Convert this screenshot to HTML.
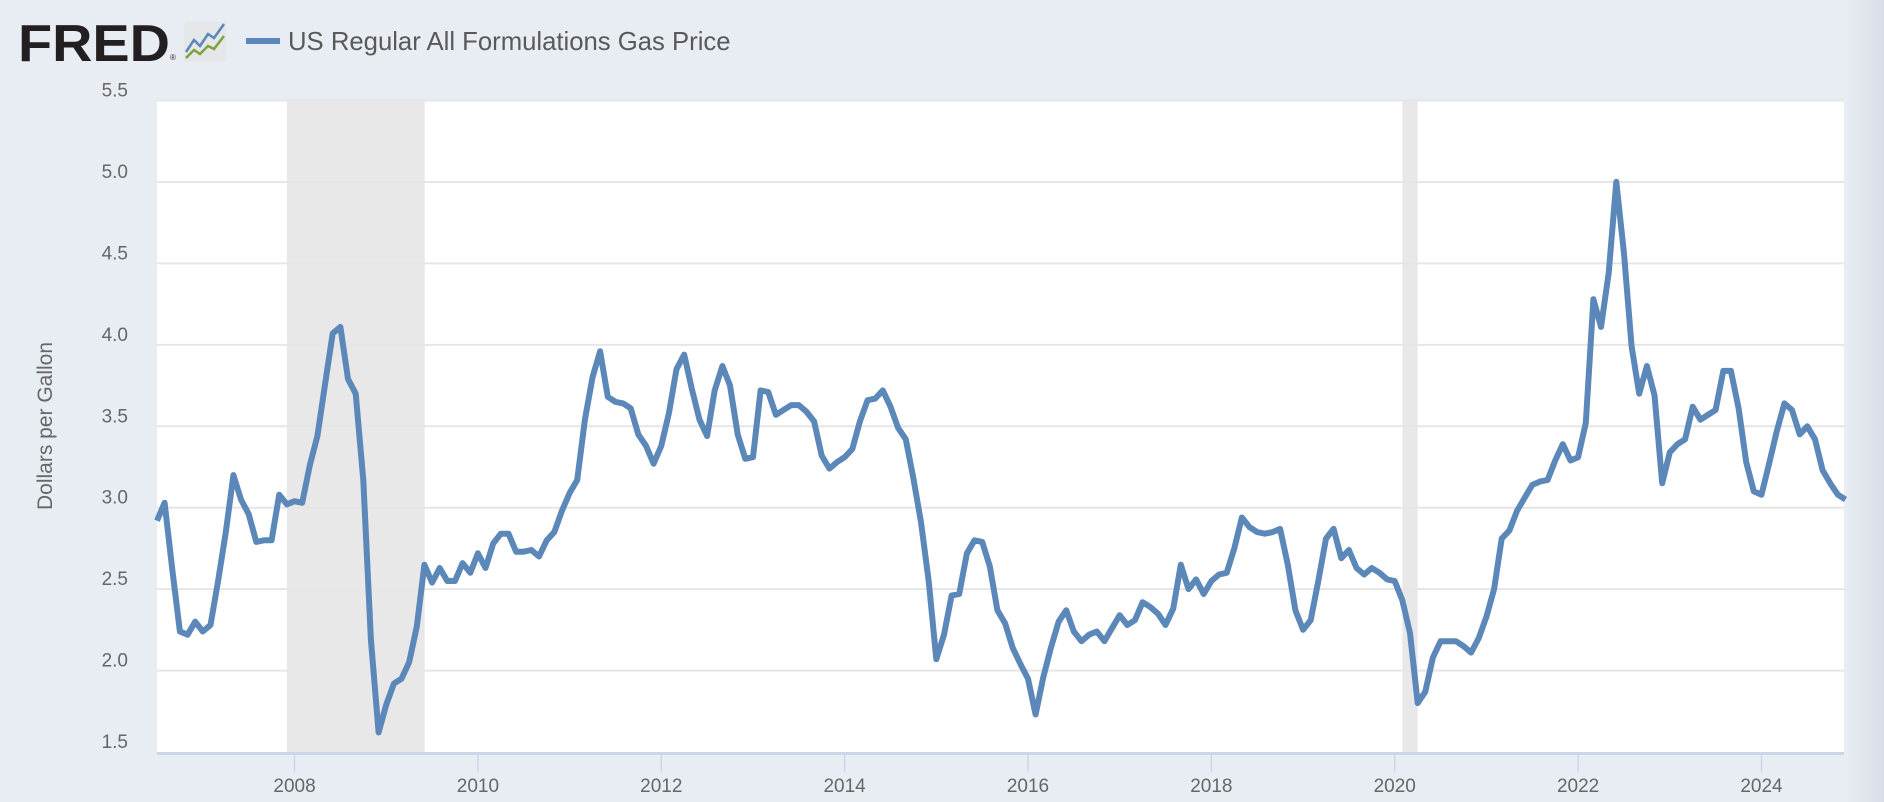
<!DOCTYPE html>
<html><head><meta charset="utf-8">
<style>
html,body{margin:0;padding:0;}
body{width:1884px;height:802px;background:#e8edf4;font-family:"Liberation Sans",sans-serif;overflow:hidden;position:relative;}
#chart{position:absolute;left:0;top:0;}
</style></head>
<body>
<svg id="chart" width="1884" height="802" xmlns="http://www.w3.org/2000/svg">
  <defs>
    <linearGradient id="rg" x1="0" x2="1" y1="0" y2="0">
      <stop offset="0" stop-color="#e8edf4"/><stop offset="1" stop-color="#d9dee6"/>
    </linearGradient>
  </defs>
  <rect x="1846" y="0" width="38" height="802" fill="url(#rg)"/>
  <g>
    <text x="18" y="61" font-size="52" font-weight="bold" fill="#231f20" textLength="152" lengthAdjust="spacingAndGlyphs">FRED</text>
    <text x="170" y="60" font-size="8" fill="#231f20">®</text>
    <rect x="184" y="22" width="42" height="40" rx="3" fill="#e4e6e8"/>
    <polyline points="186,52 194,40 200,46 208,34 214,38 224,24" fill="none" stroke="#5b88b9" stroke-width="2.5"/>
    <polyline points="186,58 194,50 200,54 208,46 214,49 224,36" fill="none" stroke="#7aa33c" stroke-width="2.5"/>
  </g>
  <g>
    <line x1="246" y1="41" x2="280" y2="41" stroke="#5b88b9" stroke-width="6"/>
    <text x="288" y="50" font-size="25.7" fill="#595959">US Regular All Formulations Gas Price</text>
  </g>
  <rect x="157" y="100" width="1687" height="652" fill="#ffffff"/>
  <g id="shades"></g>
  <g id="grid"></g>
  <g id="xaxis"></g>
  <g id="yaxis"></g>
  <g id="series"></g>
  <text x="0" y="0" transform="translate(52,426) rotate(-90)" text-anchor="middle" font-size="21" fill="#666">Dollars per Gallon</text>
</svg>
<script>
const startYear = 2006.5;
const yTicks = [1.5, 2.0, 2.5, 3.0, 3.5, 4.0, 4.5, 5.0, 5.5];
const xTicks = [2008, 2010, 2012, 2014, 2016, 2018, 2020, 2022, 2024];
const recessionStarts = [2007.917, 2020.083];
const recessionEnds = [2009.42, 2020.25];
const prices = [
 2.92,3.03,2.62,2.24,2.22,2.30,
 2.24,2.28,2.55,2.85,3.20,3.05,2.96,2.79,2.80,2.80,3.08,3.02,
 3.04,3.03,3.26,3.44,3.76,4.07,4.11,3.79,3.70,3.17,2.19,1.62,
 1.79,1.92,1.95,2.05,2.27,2.65,2.54,2.63,2.55,2.55,2.66,2.60,
 2.72,2.63,2.78,2.84,2.84,2.73,2.73,2.74,2.70,2.80,2.85,2.98,
 3.09,3.17,3.54,3.80,3.96,3.68,3.65,3.64,3.61,3.45,3.38,3.27,
 3.38,3.58,3.85,3.94,3.73,3.54,3.44,3.72,3.87,3.75,3.45,3.30,
 3.31,3.72,3.71,3.57,3.60,3.63,3.63,3.59,3.53,3.32,3.24,3.28,
 3.31,3.36,3.53,3.66,3.67,3.72,3.62,3.49,3.42,3.18,2.91,2.55,
 2.07,2.22,2.46,2.47,2.72,2.80,2.79,2.64,2.37,2.29,2.14,2.04,
 1.95,1.73,1.96,2.14,2.30,2.37,2.24,2.18,2.22,2.24,2.18,2.26,
 2.34,2.28,2.31,2.42,2.39,2.35,2.28,2.38,2.65,2.50,2.56,2.47,
 2.55,2.59,2.60,2.75,2.94,2.88,2.85,2.84,2.85,2.87,2.65,2.37,
 2.25,2.31,2.55,2.81,2.87,2.69,2.74,2.63,2.59,2.63,2.60,2.56,
 2.55,2.43,2.23,1.80,1.87,2.08,2.18,2.18,2.18,2.15,2.11,2.20,
 2.33,2.50,2.81,2.86,2.98,3.06,3.14,3.16,3.17,3.29,3.39,3.29,
 3.31,3.52,4.28,4.11,4.44,5.00,4.56,3.99,3.70,3.87,3.69,3.15,
 3.34,3.39,3.42,3.62,3.54,3.57,3.60,3.84,3.84,3.61,3.28,3.10,
 3.08,3.27,3.47,3.64,3.60,3.45,3.50,3.42,3.23,3.15,3.08,3.05
];
const NS='http://www.w3.org/2000/svg';
const L=157,R=1844,T=100.5,B=752;
const X0=2006.5,X1=2024.9;
function xs(t){return L+(t-X0)/(X1-X0)*(R-L);}
function ys(v){return B-(v-1.5)/(5.5-1.5)*(B-T);}
function mk(tag,attrs,parent){const e=document.createElementNS(NS,tag);for(const k in attrs)e.setAttribute(k,attrs[k]);parent.appendChild(e);return e;}
const shades=document.getElementById('shades');
recessionStarts.forEach((s,i)=>{
  const r=mk('rect',{x:xs(s),y:T,width:xs(recessionEnds[i])-xs(s),height:B-T,fill:'#e8e8e8'},shades);
  
  
});
const grid=document.getElementById('grid'),ya=document.getElementById('yaxis');
yTicks.forEach(v=>{
  if(v>1.5){const g=mk('line',{x1:L,x2:R,y1:ys(v),y2:ys(v),stroke:'#e6e6e6','stroke-width':2},grid);
  
  }
  const t=mk('text',{x:128,y:ys(v)-4,'text-anchor':'end','font-size':19,fill:'#666'},ya);
  t.textContent=v.toFixed(1);
  
  
});
const xa=document.getElementById('xaxis');
const ax=mk('rect',{x:L,y:B,width:R-L,height:3,fill:'#ccd6eb'},xa);


xTicks.forEach(y=>{
  const tk=mk('line',{x1:xs(y),x2:xs(y),y1:B,y2:B+20,stroke:'#ccd6eb','stroke-width':1.5},xa);
  
  
  const t=mk('text',{x:xs(y),y:B+40,'text-anchor':'middle','font-size':19,fill:'#666'},xa);
  t.textContent=String(y);
  
  
});
const pts=prices.map((v,i)=>xs(startYear+i/12).toFixed(1)+','+ys(v).toFixed(1)).join(' ');
const line=mk('polyline',{points:pts,fill:'none',stroke:'#5b88b9','stroke-width':6,'stroke-linejoin':'round'},document.getElementById('series'));


</script>
</body></html>
